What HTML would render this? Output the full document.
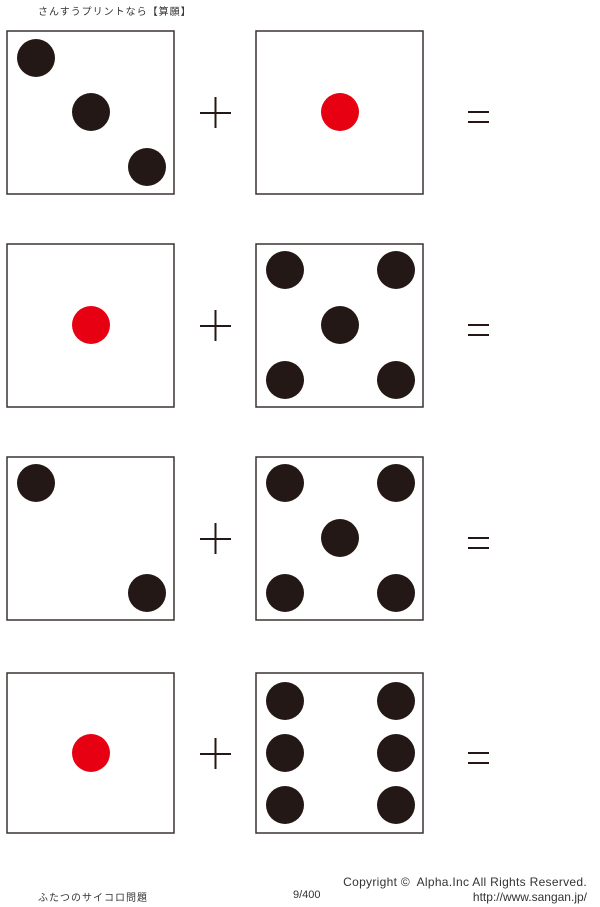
<!DOCTYPE html>
<html><head><meta charset="utf-8"><style>
html,body{margin:0;padding:0;background:#fff;}
body{width:600px;height:907px;position:relative;overflow:hidden;font-family:"Liberation Sans","Noto Sans CJK JP",sans-serif;color:#333;}
.t{position:absolute;font-size:10px;white-space:nowrap;}
</style></head><body>
<div class="t" style="left:38px;top:3px;letter-spacing:1px;">さんすうプリントなら【算願】</div>
<svg width="600" height="907" style="position:absolute;left:0;top:0" xmlns="http://www.w3.org/2000/svg">
<g fill="none" stroke="#3a3330" stroke-width="1.5">
<rect x="7" y="31" width="167" height="163"/><rect x="256" y="31" width="167" height="163"/>
<rect x="7" y="244" width="167" height="163"/><rect x="256" y="244" width="167" height="163"/>
<rect x="7" y="457" width="167" height="163"/><rect x="256" y="457" width="167" height="163"/>
<rect x="7" y="673" width="167" height="160"/><rect x="256" y="673" width="167" height="160"/>
</g>
<g fill="#231815">
<circle cx="36" cy="58" r="19"/><circle cx="91" cy="112" r="19"/><circle cx="147" cy="167" r="19"/>
<circle cx="285" cy="270" r="19"/><circle cx="396" cy="270" r="19"/><circle cx="340" cy="325" r="19"/><circle cx="285" cy="380" r="19"/><circle cx="396" cy="380" r="19"/>
<circle cx="36" cy="483" r="19"/><circle cx="147" cy="593" r="19"/>
<circle cx="285" cy="483" r="19"/><circle cx="396" cy="483" r="19"/><circle cx="340" cy="538" r="19"/><circle cx="285" cy="593" r="19"/><circle cx="396" cy="593" r="19"/>
<circle cx="285" cy="701" r="19"/><circle cx="396" cy="701" r="19"/><circle cx="285" cy="753" r="19"/><circle cx="396" cy="753" r="19"/><circle cx="285" cy="805" r="19"/><circle cx="396" cy="805" r="19"/>
</g>
<g fill="#e60012">
<circle cx="340" cy="112" r="19"/><circle cx="91" cy="325" r="19"/><circle cx="91" cy="753" r="19"/>
</g>
<g stroke="#231815" stroke-width="2">
<path d="M200 113H231M215.5 97V128"/>
<path d="M200 326H231M215.5 310V341"/>
<path d="M200 539H231M215.5 523V554"/>
<path d="M200 754H231M215.5 738V769"/>
<path d="M468 112H489M468 122H489"/>
<path d="M468 325H489M468 335H489"/>
<path d="M468 538H489M468 548H489"/>
<path d="M468 753H489M468 763H489"/>
</g>
</svg>
<div class="t" style="left:38px;top:889px;letter-spacing:1px;">ふたつのサイコロ問題</div>
<div class="t" style="left:293px;top:889px;font-size:11px;">9/400</div>
<div class="t" style="right:13px;top:875px;font-size:12px;letter-spacing:0.3px;">Copyright ©&nbsp; Alpha.Inc All Rights Reserved.</div>
<div class="t" style="right:13px;top:890px;font-size:12px;">http://www.sangan.jp/</div>
</body></html>
